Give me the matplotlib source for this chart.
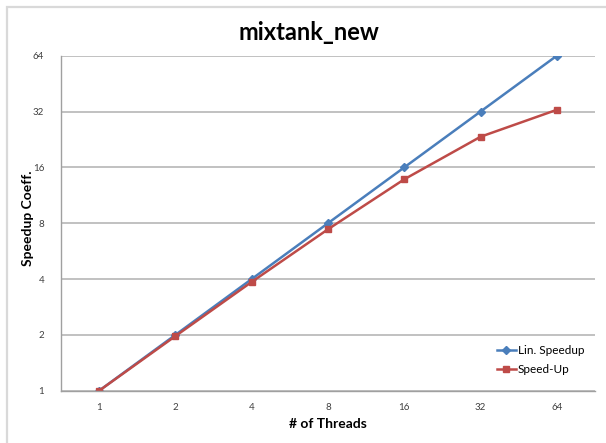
import matplotlib.pyplot as plt
from matplotlib.patches import Rectangle

threads = ["1", "2", "4", "8", "16", "32", "64"]
lin_speedup = [1, 2, 4, 8, 16, 32, 64]
speed_up = [1, 1.97, 3.86, 7.42, 13.8, 23.4, 32.7]
yticks = [1, 2, 4, 8, 16, 32, 64]

plt.rcParams['font.family'] = ['Lato', 'DejaVu Sans']

W, H = 606, 443
fig = plt.figure(figsize=(W / 100, H / 100), dpi=100)

# light outer frame (chart area border, cropped at right/bottom)
fig.patches.append(Rectangle((7 / W, -0.05), 1.1, 1 - 7 / H + 0.05,
                             transform=fig.transFigure, fill=False,
                             edgecolor="#d9d9d9", linewidth=1.6))

ax = fig.add_axes([61 / W, 1 - 390.7 / H, (595 - 61) / W, 335 / H])
x = range(len(threads))
ax.plot(x, lin_speedup, color="#4a7ebb", marker="D", markersize=4.5,
        linewidth=1.8, label="Lin. Speedup")
ax.plot(x, speed_up, color="#be4b48", marker="s", markersize=4.5,
        linewidth=1.8, label="Speed-Up")

ax.set_yscale("log", base=2)
ax.set_ylim(1, 64)
ax.set_yticks(yticks)
ax.set_yticklabels([str(v) for v in yticks])
ax.minorticks_off()
ax.set_xlim(-0.5, len(threads) - 0.5)
ax.set_xticks(list(x))
ax.set_xticklabels(threads)
ax.tick_params(length=0, labelsize=7, colors="#404040")
ax.tick_params(axis="y", pad=12)
ax.tick_params(axis="x", pad=9)
ax.yaxis.grid(True, color="#b0b0b0", linewidth=1.1)
ax.set_axisbelow(True)
for s in ["top", "right"]:
    ax.spines[s].set_visible(False)
for s in ["left", "bottom"]:
    ax.spines[s].set_color("#a0a0a0")
    ax.spines[s].set_linewidth(1.0)

ax.set_xlabel("# of Threads", fontsize=10, fontweight="bold", labelpad=4)
fig.text(28 / W, 1 - 218 / H, "Speedup Coeff.", rotation=90, ha="center",
         va="center", fontsize=10, fontweight="bold")
fig.text(309 / W, 1 - 32 / H, "mixtank_new", ha="center", va="center",
         fontsize=17, fontweight="bold")

ax.legend(loc="lower right", bbox_to_anchor=(1.0, 0.015), frameon=False,
          fontsize=8.5, handlelength=1.6, handletextpad=0.2, labelspacing=0.7)

fig.savefig("out.png", dpi=100)
